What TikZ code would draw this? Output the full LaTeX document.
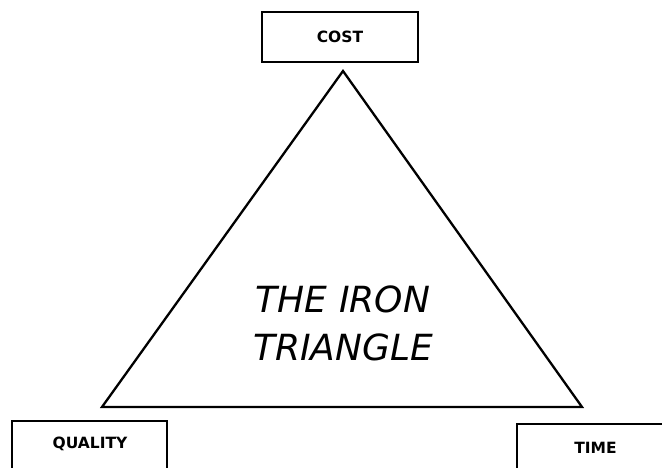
\documentclass[tikz,border=0pt]{standalone}
\usepackage{fontspec}
\setmainfont{DejaVu Sans}
\begin{document}
\begin{tikzpicture}[x=1pt,y=1pt,
  box/.style={draw=black,line width=2.3pt,inner sep=0pt,fill=white},
  lbl/.style={font=\fontsize{15.5}{18}\selectfont\bfseries,inner sep=0pt,anchor=base},
  tri/.style={draw=black,line width=2.3pt,line join=miter}]
\useasboundingbox (0,0) rectangle (662,468);
\clip (0,0) rectangle (662,468);
% triangle
\coordinate (apex) at (343,397);
\coordinate (bl) at (102,61);
\coordinate (br) at (582,61);
\draw[tri] (apex) -- (bl) -- (br) -- cycle;
\node[align=center,inner sep=0pt,font=\fontsize{36}{48}\selectfont\itshape] (title) at (343,145) {THE IRON\\TRIANGLE};
% boxes
\node[box,minimum width=156pt,minimum height=50pt] (cost) at (340,431) {};
\node[lbl] (costl) at (340,425.7) {COST};
\node[box,minimum width=155pt,minimum height=70pt] (quality) at (89.5,12) {};
\node[lbl] (qualityl) at (90,19) {QUALITY};
\node[box,minimum width=165pt,minimum height=70pt] (time) at (599.5,9) {};
\node[lbl] (timel) at (595.5,14) {TIME};
\end{tikzpicture}
\end{document}
